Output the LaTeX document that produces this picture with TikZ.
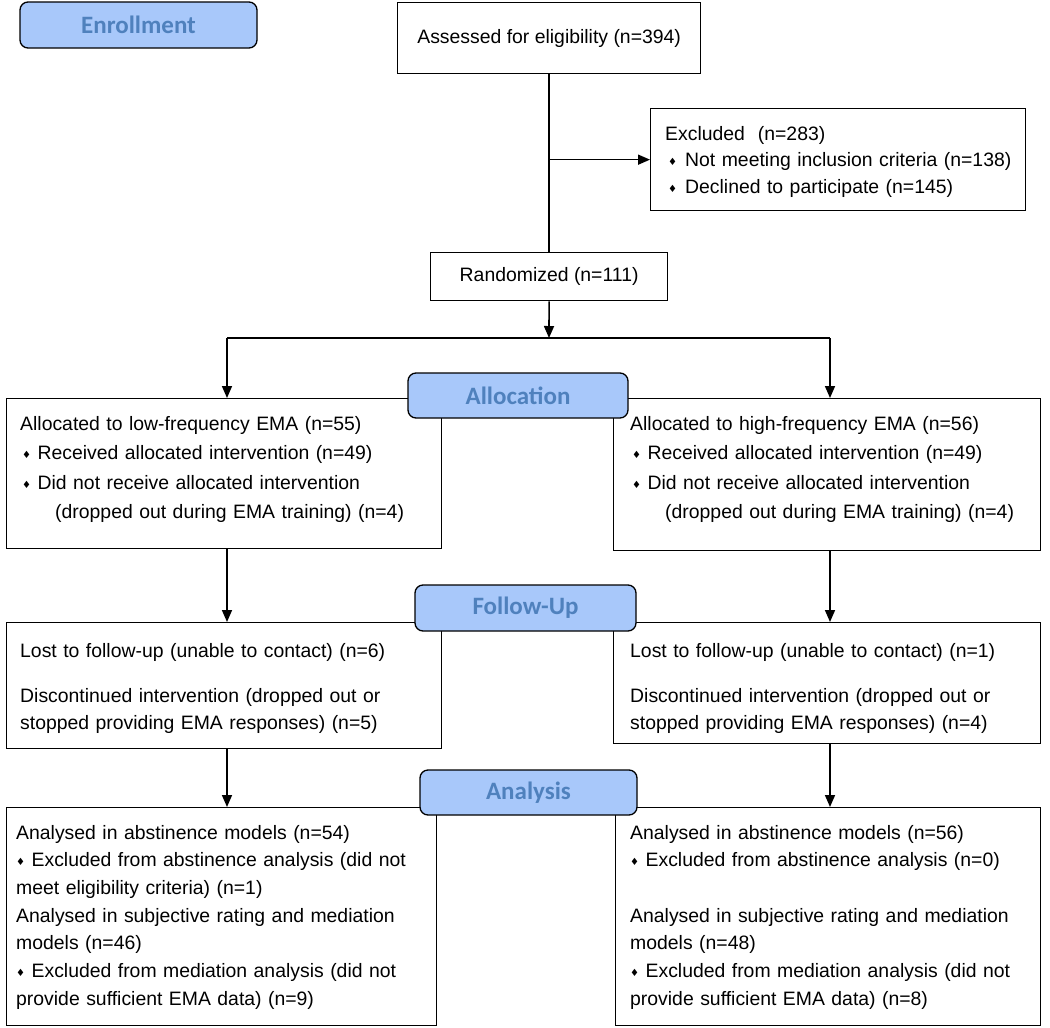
\documentclass[tikz,border=0pt]{standalone}
\usepackage{fontspec}
\setmainfont{Liberation Sans}
\newfontfamily\headfont{Carlito}
\newfontfamily\symfont{DejaVu Sans}
\usetikzlibrary{%
    arrows.meta,
    positioning
}
\definecolor{headfill}{RGB}{168,200,250}
\definecolor{headtext}{RGB}{79,129,189}
\newcommand{\bul}{{\symfont\fontsize{10}{10}\selectfont\raisebox{1pt}{♦}}}
\tikzset{link/.style = {line width=1.6pt}}
\tikzset{headarrow/.style = {link, -{Triangle[length=12pt,width=10pt]}}}
\tikzset{flowbox/.style = {draw, line width=1.3pt, rectangle, inner sep=0pt, anchor=north west,
    font=\fontsize{19.4}{24}\selectfont}}
\tikzset{stage/.style = {draw, line width=1.3pt, rounded corners=8pt, fill=headfill, text=headtext,
    inner sep=0pt, font=\headfont\bfseries\fontsize{25}{25}\selectfont}}
\tikzset{boxtext/.style = {anchor=base west, inner sep=0pt, align=left, text width=410pt}}

\begin{document}
\begin{tikzpicture}[x=1pt, y=-1pt]
    \useasboundingbox (0,0) rectangle (1050,1028);

    % boxes
    \node (assessed) [flowbox, minimum width=303pt, minimum height=71pt] at (397,2)
        {Assessed for eligibility (n=394)};
    \node (excluded) [flowbox, minimum width=375pt, minimum height=102pt] at (650,108) {};
    \node (randomized) [flowbox, minimum width=237pt, minimum height=48pt] at (430,252)
        {Randomized (n=111)};
    \node (alloclo) [flowbox, minimum width=435pt, minimum height=150pt] at (6,398) {};
    \node (allochi) [flowbox, minimum width=427pt, minimum height=152pt] at (613,398) {};
    \node (followlo) [flowbox, minimum width=435pt, minimum height=126pt] at (6,622) {};
    \node (followhi) [flowbox, minimum width=427pt, minimum height=121pt] at (613,622) {};
    \node (analysislo) [flowbox, minimum width=430pt, minimum height=218pt] at (6,807) {};
    \node (analysishi) [flowbox, minimum width=425pt, minimum height=218pt] at (615,807) {};

    % box texts
    \node (excludedtext) [boxtext, font=\fontsize{19.4}{26.5}\selectfont] at (665,140)
        {Excluded\ \ (n=283)\\
         \hspace*{3pt}\bul\hspace{8pt}Not meeting inclusion criteria (n=138)\\
         \hspace*{3pt}\bul\hspace{8pt}Declined to participate (n=145)};
    \node (alloclotext) [boxtext, font=\fontsize{19.4}{29.5}\selectfont] at (20,430)
        {Allocated to low-frequency EMA (n=55)\\
         \hspace*{2pt}\bul\ Received allocated intervention (n=49)\\
         \hspace*{2pt}\bul\ Did not receive allocated intervention\\
         \hspace*{35pt}(dropped out during EMA training) (n=4)};
    \node (allochitext) [boxtext, font=\fontsize{19.4}{29.5}\selectfont] at (630,430)
        {Allocated to high-frequency EMA (n=56)\\
         \hspace*{2pt}\bul\ Received allocated intervention (n=49)\\
         \hspace*{2pt}\bul\ Did not receive allocated intervention\\
         \hspace*{35pt}(dropped out during EMA training) (n=4)};
    \node (followlotext) [boxtext, font=\fontsize{19.4}{27}\selectfont] at (20,657)
        {Lost to follow-up (unable to contact) (n=6)\\[18pt]
         Discontinued intervention (dropped out or\\
         stopped providing EMA responses) (n=5)};
    \node (followhitext) [boxtext, font=\fontsize{19.4}{27}\selectfont] at (630,657)
        {Lost to follow-up (unable to contact) (n=1)\\[18pt]
         Discontinued intervention (dropped out or\\
         stopped providing EMA responses) (n=4)};
    \node (analysislotext) [boxtext, font=\fontsize{19.4}{27.7}\selectfont] at (16,839)
        {Analysed in abstinence models (n=54)\\
         \bul\ Excluded from abstinence analysis (did not\\
         meet eligibility criteria) (n=1)\\
         Analysed in subjective rating and mediation\\
         models (n=46)\\
         \bul\ Excluded from mediation analysis (did not\\
         provide sufficient EMA data) (n=9)};
    \node (analysishitext) [boxtext, font=\fontsize{19.4}{27.7}\selectfont] at (630,839)
        {Analysed in abstinence models (n=56)\\
         \bul\ Excluded from abstinence analysis (n=0)\\[27.7pt]
         Analysed in subjective rating and mediation\\
         models (n=48)\\
         \bul\ Excluded from mediation analysis (did not\\
         provide sufficient EMA data) (n=8)};

    % connectors
    \coordinate (split) at (549,338);
    \coordinate (lcol) at (227,338);
    \coordinate (rcol) at (830,338);

    \draw[link] (assessed) -- (randomized);
    \draw[headarrow] (assessed.south |- excluded.west) -- (excluded.west);
    \draw[headarrow] (randomized) -- (split);
    \draw[link] (lcol) -- (rcol);
    \draw[headarrow] (lcol) -- (lcol |- alloclo.north);
    \draw[headarrow] (rcol) -- (rcol |- allochi.north);

    \foreach \Source/\Target in {alloclo/followlo, followlo/analysislo}
        \draw[headarrow] (lcol |- \Source.south) -- (lcol |- \Target.north);
    \foreach \Source/\Target in {allochi/followhi, followhi/analysishi}
        \draw[headarrow] (rcol |- \Source.south) -- (rcol |- \Target.north);

    % stage labels
    \node (enrollment) [stage, minimum width=237pt, minimum height=46pt] at (138.5,25) {Enrollment};
    \node (allocation) [stage, minimum width=220pt, minimum height=45pt] at (518,395.5) {Allocation};
    \node (followup) [stage, minimum width=221pt, minimum height=46pt] at (525.5,608) {Follow-Up};
    \node (analysis) [stage, minimum width=217pt, minimum height=45pt] at (528.5,792.5) {Analysis};
\end{tikzpicture}
\end{document}
